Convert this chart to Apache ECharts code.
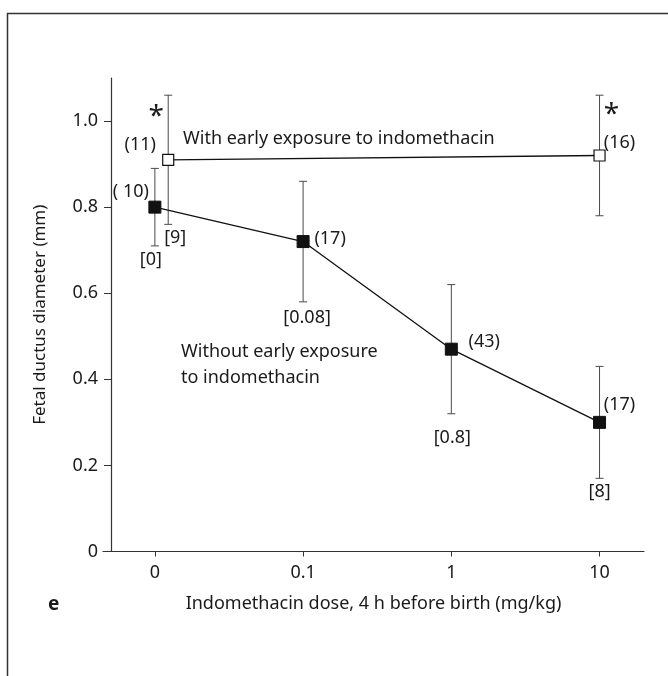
<!DOCTYPE html>
<html>
<head>
<meta charset="utf-8">
<script src="https://cdn.jsdelivr.net/npm/echarts@6/dist/echarts.min.js"></script>
<style>
  html, body { margin: 0; padding: 0; background: #fff; }
  #chart { width: 668px; height: 676px; }
</style>
</head>
<body>
<div id="chart"></div>
<script>
// x positions are category slots, labelled with the dose
const doseLabels = ["0", "0.1", "1", "10"];
const doseX = [0, 1, 2, 3];
const yTicks = [0, 0.2, 0.4, 0.6, 0.8, 1.0];

// without early exposure (filled squares)
const withoutMean = [0.80, 0.72, 0.47, 0.30];
const withoutErr = [0.09, 0.14, 0.15, 0.13];
const withoutN = ["( 10)", "(17)", "(43)", "(17)"];
const withoutP = ["[0]", "[0.08]", "[0.8]", "[8]"];

// with early exposure (open squares), first point drawn a bit right of 0
const withX = [0.09, 3];
const withMean = [0.91, 0.92];
const withErr = [0.15, 0.14];
const withN = ["(11)", "(16)"];
const withP = ["[9]", ""];
const withStar = ["*", "*"];

// pixel offsets of the annotations (layout only)
const offWithoutN = [[-24, -15], [27, -3], [33, -7], [20, -17]];
const offWithoutP = [[-4, 14], [4, 16], [1, 24], [0, 14]];
const offWithN = [[-28, -15], [20, -13]];
const offWithP = [[7, 14], [0, 0]];
const offWithStar = [[-12, 22], [12, 20]];

const FONT = '"Noto Sans", sans-serif';
const INK = "#1a1a1a";
const FS = 18;

const chart = echarts.init(document.getElementById("chart"));

function errorBars(name, xs, means, errs) {
  return {
    type: "custom", name, z: 1, silent: true,
    data: xs.map((x, i) => [x, means[i] - errs[i], means[i] + errs[i]]),
    encode: { x: 0, y: [1, 2] },
    renderItem(params, api) {
      const lo = api.coord([api.value(0), api.value(1)]);
      const hi = api.coord([api.value(0), api.value(2)]);
      const w = 4;
      const style = { stroke: "#4a4a4a", lineWidth: 1 };
      return {
        type: "group",
        children: [
          { type: "line", shape: { x1: hi[0], y1: hi[1], x2: lo[0], y2: lo[1] }, style },
          { type: "line", shape: { x1: hi[0] - w, y1: hi[1], x2: hi[0] + w, y2: hi[1] }, style },
          { type: "line", shape: { x1: lo[0] - w, y1: lo[1], x2: lo[0] + w, y2: lo[1] }, style },
        ],
      };
    },
  };
}

function notes(name, xs, ys, texts, offsets, size) {
  return {
    type: "custom", name, z: 5, silent: true,
    data: xs.map((x, i) => [x, ys[i], i]),
    encode: { x: 0, y: 1 },
    renderItem(params, api) {
      const i = api.value(2);
      if (!texts[i]) return null;
      const p = api.coord([api.value(0), api.value(1)]);
      return {
        type: "text",
        x: p[0] + offsets[i][0],
        y: p[1] + offsets[i][1],
        style: { text: texts[i], fill: INK, fontSize: size || FS, fontFamily: FONT, align: "center", verticalAlign: "middle" },
      };
    },
  };
}

chart.setOption({
  backgroundColor: "#ffffff",
  animation: false,
  textStyle: { fontFamily: FONT, color: INK },
  grid: { left: 103, right: 24, top: 78, bottom: 124.5 },
  xAxis: {
    type: "value", min: -0.35, max: 3.3,
    splitLine: { show: false },
    axisLine: { lineStyle: { color: "#333", width: 1.2 } },
    axisTick: { show: true, length: 5, customValues: doseX, lineStyle: { color: "#333" } },
    axisLabel: { customValues: doseX, formatter: (v) => doseLabels[Math.round(v)], fontSize: FS, color: INK, margin: 12, fontFamily: FONT },
    name: "Indomethacin dose, 4 h before birth (mg/kg)",
    nameLocation: "middle", nameGap: 43,
    nameTextStyle: { fontSize: FS, color: INK, fontFamily: FONT },
  },
  yAxis: {
    type: "value", min: 0, max: 1.1, offset: -8,
    splitLine: { show: false },
    axisLine: { show: true, onZero: false, lineStyle: { color: "#333", width: 1.2 } },
    axisTick: { show: true, length: 7, customValues: yTicks, lineStyle: { color: "#333" } },
    axisLabel: { customValues: yTicks, formatter: (v) => (v === 0 ? "0" : v.toFixed(1)), fontSize: FS, color: INK, margin: 13, fontFamily: FONT },
    name: "Fetal ductus diameter (mm)",
    nameLocation: "middle", nameGap: 62,
    nameTextStyle: { fontSize: 17, color: INK, fontFamily: FONT },
  },
  series: [
    errorBars("without err", doseX, withoutMean, withoutErr),
    errorBars("with err", withX, withMean, withErr),
    {
      name: "Without early exposure", type: "line", z: 3,
      data: doseX.map((x, i) => [x, withoutMean[i]]),
      symbol: "rect", symbolSize: 12,
      lineStyle: { color: "#111", width: 1.3 },
      itemStyle: { color: "#111", borderColor: "#111" },
    },
    {
      name: "With early exposure", type: "line", z: 3,
      data: withX.map((x, i) => [x, withMean[i]]),
      symbol: "rect", symbolSize: 11,
      lineStyle: { color: "#111", width: 1.3 },
      itemStyle: { color: "#fff", borderColor: "#111", borderWidth: 1.2 },
    },
    notes("n without", doseX, withoutMean, withoutN, offWithoutN),
    notes("p without", doseX, withoutMean.map((m, i) => m - withoutErr[i]), withoutP, offWithoutP),
    notes("n with", withX, withMean, withN, offWithN),
    notes("p with", withX, withMean.map((m, i) => m - withErr[i]), withP, offWithP),
    notes("star with", withX, withMean.map((m, i) => m + withErr[i]), withStar, offWithStar, 28),
  ],
  graphic: [
    { type: "line", shape: { x1: 7.5, y1: 13, x2: 7.5, y2: 676 }, style: { stroke: "#333", lineWidth: 1.5 } },
    { type: "line", shape: { x1: 7, y1: 13.5, x2: 668, y2: 13.5 }, style: { stroke: "#333", lineWidth: 1.5 } },
    { type: "text", x: 183, y: 139, style: { text: "With early exposure to indomethacin", fill: INK, fontSize: FS, fontFamily: FONT, verticalAlign: "middle" } },
    { type: "text", x: 181, y: 352, style: { text: "Without early exposure", fill: INK, fontSize: FS, fontFamily: FONT, verticalAlign: "middle" } },
    { type: "text", x: 181, y: 378, style: { text: "to indomethacin", fill: INK, fontSize: FS, fontFamily: FONT, verticalAlign: "middle" } },
    { type: "text", x: 48, y: 605, style: { text: "e", fill: INK, fontSize: 19, fontWeight: "bold", fontFamily: FONT, verticalAlign: "middle" } },
  ],
});
</script>
</body>
</html>
